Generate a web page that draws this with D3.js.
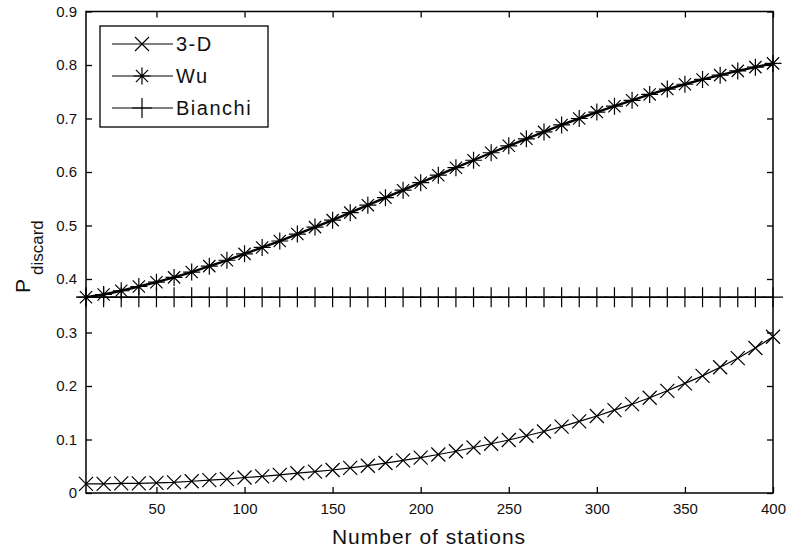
<!DOCTYPE html>
<html>
<head>
  <meta charset='utf-8'>
  <title>P discard vs number of stations</title>
  <script src="https://cdn.jsdelivr.net/npm/d3@7"></script>
  <style>
    body { margin: 0; background: #fff; }
    text { font-family: "Liberation Sans", Arial, sans-serif; fill: #111; }
  </style>
</head>
<body>
  <svg width="788" height="552" id="chart"></svg>
  <script>
    // stations on the x axis
    const stations = [10, 20, 30, 40, 50, 60, 70, 80, 90, 100,
      110, 120, 130, 140, 150, 160, 170, 180, 190, 200,
      210, 220, 230, 240, 250, 260, 270, 280, 290, 300,
      310, 320, 330, 340, 350, 360, 370, 380, 390, 400];

    const threeD = [0.017, 0.017, 0.018, 0.018, 0.019, 0.020, 0.022, 0.024, 0.026, 0.029,
      0.031, 0.034, 0.037, 0.040, 0.043, 0.047, 0.051, 0.056, 0.061, 0.066,
      0.072, 0.078, 0.085, 0.092, 0.099, 0.107, 0.115, 0.124, 0.134, 0.144,
      0.155, 0.166, 0.178, 0.191, 0.205, 0.219, 0.235, 0.252, 0.271, 0.292];

    const wu = [0.366, 0.371, 0.378, 0.386, 0.394, 0.403, 0.413, 0.424, 0.435, 0.447,
      0.459, 0.471, 0.484, 0.497, 0.510, 0.524, 0.538, 0.552, 0.566, 0.580,
      0.594, 0.608, 0.622, 0.636, 0.649, 0.662, 0.675, 0.688, 0.700, 0.712,
      0.723, 0.734, 0.745, 0.755, 0.764, 0.773, 0.781, 0.789, 0.796, 0.803];

    const bianchi = [0.366, 0.366, 0.366, 0.366, 0.366, 0.366, 0.366, 0.366, 0.366, 0.366,
      0.366, 0.366, 0.366, 0.366, 0.366, 0.366, 0.366, 0.366, 0.366, 0.366,
      0.366, 0.366, 0.366, 0.366, 0.366, 0.366, 0.366, 0.366, 0.366, 0.366,
      0.366, 0.366, 0.366, 0.366, 0.366, 0.366, 0.366, 0.366, 0.366, 0.366];

    const xTicks = [50, 100, 150, 200, 250, 300, 350, 400];
    const yTicks = [0, 0.1, 0.2, 0.3, 0.4, 0.5, 0.6, 0.7, 0.8, 0.9];
    const yTickLabels = ["0", "0.1", "0.2", "0.3", "0.4", "0.5", "0.6", "0.7", "0.8", "0.9"];

    const plotL = 86, plotR = 773, plotT = 11.5, plotB = 493;
    const tickLen = 6;

    const svg = d3.select('#chart');
    const x = d3.scaleLinear().domain([10, 400]).range([plotL, plotR]);
    const y = d3.scaleLinear().domain([0, 0.9]).range([plotB, plotT]);

    // marker shapes
    const markers = {
      cross: s => `M${-s},${-s}L${s},${s}M${-s},${s}L${s},${-s}`,
      star: s => `M0,${-s}L0,${s}M${-s},0L${s},0M${-s * 0.72},${-s * 0.72}L${s * 0.72},${s * 0.72}M${-s * 0.72},${s * 0.72}L${s * 0.72},${-s * 0.72}`,
      plus: s => `M0,${-s}L0,${s}M${-s},0L${s},0`
    };

    const series = [
      { name: "3-D", values: threeD, marker: "cross", size: 7, width: 1.2 },
      { name: "Wu", values: wu, marker: "star", size: 8.5, width: 2.4 },
      { name: "Bianchi", values: bianchi, marker: "plus", size: 10, width: 1.5 }
    ];

    // axes: bottom, left, plus mirrored ticks on top and right
    const xAxisB = d3.axisBottom(x).tickValues(xTicks).tickSizeInner(-tickLen).tickSizeOuter(0).tickPadding(10);
    const xAxisT = d3.axisTop(x).tickValues(xTicks).tickSizeInner(-tickLen).tickSizeOuter(0).tickFormat("");
    const yAxisL = d3.axisLeft(y).tickValues(yTicks).tickSizeInner(-tickLen).tickSizeOuter(0).tickPadding(9)
      .tickFormat((d, i) => yTickLabels[i]);
    const yAxisR = d3.axisRight(y).tickValues(yTicks).tickSizeInner(-tickLen).tickSizeOuter(0).tickFormat("");

    const axes = [
      svg.append('g').attr('transform', `translate(0,${plotB})`).call(xAxisB),
      svg.append('g').attr('transform', `translate(0,${plotT})`).call(xAxisT),
      svg.append('g').attr('transform', `translate(${plotL},0)`).call(yAxisL),
      svg.append('g').attr('transform', `translate(${plotR},0)`).call(yAxisR)
    ];
    axes.forEach(a => {
      a.select('.domain').remove();
      a.selectAll('line').attr('stroke', '#000').attr('stroke-width', 1.3);
      a.selectAll('text').style('font-size', '15px').attr('fill', '#111');
    });

    // plot box
    svg.append('rect')
      .attr('x', plotL).attr('y', plotT)
      .attr('width', plotR - plotL).attr('height', plotB - plotT)
      .attr('fill', 'none').attr('stroke', '#000').attr('stroke-width', 1.5);

    const line = d3.line().x((d, i) => x(stations[i])).y(d => y(d));

    const g = svg.selectAll('.series')
      .data(series)
      .join('g')
      .classed('series', true);

    g.append('path')
      .attr('d', d => line(d.values))
      .attr('fill', 'none')
      .attr('stroke', '#000')
      .attr('stroke-width', d => d.width);

    g.each(function (s) {
      d3.select(this).selectAll('.mk')
        .data(s.values)
        .join('path')
        .classed('mk', true)
        .attr('transform', (d, i) => `translate(${x(stations[i])},${y(d)})`)
        .attr('d', markers[s.marker](s.size))
        .attr('fill', 'none')
        .attr('stroke', '#000')
        .attr('stroke-width', 1.2);
    });

    // legend
    const legend = svg.append('g').attr('transform', 'translate(100,26)');
    legend.append('rect')
      .attr('width', 168).attr('height', 101)
      .attr('fill', '#fff').attr('stroke', '#000').attr('stroke-width', 1.3);

    const item = legend.selectAll('.item')
      .data(series)
      .join('g')
      .classed('item', true)
      .attr('transform', (d, i) => `translate(0,${18 + i * 32})`);

    item.append('line')
      .attr('x1', 12).attr('x2', 73)
      .attr('stroke', '#000').attr('stroke-width', 1.2);
    item.append('path')
      .attr('transform', 'translate(42,0)')
      .attr('d', d => markers[d.marker](d.size))
      .attr('fill', 'none').attr('stroke', '#000').attr('stroke-width', 1.2);
    item.append('text')
      .attr('x', 76).attr('dy', '0.36em')
      .style('font-size', '20px')
      .style('letter-spacing', '1.5px')
      .text(d => d.name);

    // axis labels
    svg.append('text')
      .attr('x', 429).attr('y', 544)
      .attr('text-anchor', 'middle')
      .style('font-size', '21px')
      .style('letter-spacing', '1px')
      .text('Number of stations');

    const ylab = svg.append('text')
      .attr('transform', 'translate(30,293) rotate(-90)')
      .style('font-size', '21px');
    ylab.append('tspan').text('P');
    ylab.append('tspan')
      .attr('dx', 4).attr('dy', 13)
      .style('font-size', '17px')
      .text('discard');
  </script>
</body>
</html>
